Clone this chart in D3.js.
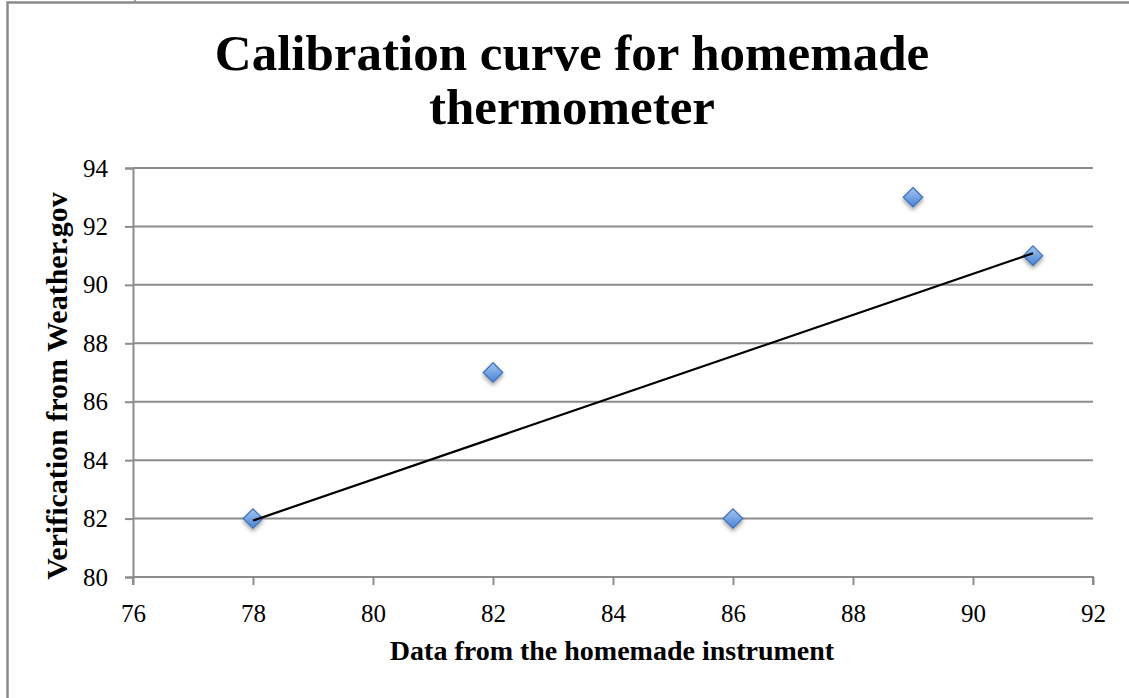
<!DOCTYPE html>
<html lang="en">
<head>
    <meta charset="UTF-8">
    <title>Calibration curve</title>
    <script src="https://d3js.org/d3.v7.min.js"></script>
    <style>
        body { margin: 0; background: #fff; }
        text { font-family: "Liberation Serif", "DejaVu Serif", serif; fill: #000; }
    </style>
</head>
<body>
<script>
    const width  = 1129;
    const height = 698;

    // readings from the homemade instrument vs weather.gov
    const homemade     = [78, 82, 86, 89, 91];
    const verification = [82, 87, 82, 93, 91];
    const xTicks = [76, 78, 80, 82, 84, 86, 88, 90, 92];
    const yTicks = [80, 82, 84, 86, 88, 90, 92, 94];

    const points = homemade.map((x, i) => [x, verification[i]]);

    const plot = {left: 133, right: 1093, top: 168, bottom: 577};

    const scaleX = d3.scaleLinear().domain([76, 92]).range([plot.left, plot.right]);
    const scaleY = d3.scaleLinear().domain([80, 94]).range([plot.bottom, plot.top]);

    // least squares trendline
    const mx = d3.mean(homemade), my = d3.mean(verification);
    const slope = d3.sum(points, d => (d[0] - mx) * (d[1] - my)) / d3.sum(points, d => (d[0] - mx) ** 2);
    const fit = x => my + slope * (x - mx);
    const trend = d3.extent(homemade).map(x => [x, fit(x)]);

    const svg = d3.select("body").append("svg").attr("width", width).attr("height", height);

    const defs = svg.append("defs");
    const grad = defs.append("linearGradient").attr("id", "mk")
        .attr("x1", 0).attr("y1", 0).attr("x2", 0).attr("y2", 1);
    grad.append("stop").attr("offset", 0).attr("stop-color", "#a3c6f3");
    grad.append("stop").attr("offset", 1).attr("stop-color", "#4a82d4");
    const shadow = defs.append("filter").attr("id", "sh")
        .attr("x", "-50%").attr("y", "-50%").attr("width", "200%").attr("height", "200%");
    shadow.append("feDropShadow").attr("dx", 0).attr("dy", 2.5).attr("stdDeviation", 2)
        .attr("flood-color", "#000").attr("flood-opacity", 0.4);

    // outer frame (left and top edges only visible)
    svg.append("path").attr("d", "M7.5,698V2.5H1129")
        .attr("fill", "none").attr("stroke", "#8a8a8a").attr("stroke-width", 2.5);
    svg.append("line").attr("x1", 135).attr("x2", 135).attr("y1", 0).attr("y2", 3)
        .attr("stroke", "#8a8a8a").attr("stroke-width", 1.5);

    svg.append("text").attr("x", 572).attr("y", 70).attr("text-anchor", "middle")
        .attr("font-size", 51).attr("font-weight", "bold").text("Calibration curve for homemade");
    svg.append("text").attr("x", 572).attr("y", 124).attr("text-anchor", "middle")
        .attr("font-size", 51).attr("font-weight", "bold").text("thermometer");

    const grid = svg.append("g");
    grid.selectAll("line").data(yTicks.filter(d => d > 80)).enter().append("line")
        .attr("x1", plot.left).attr("x2", plot.right)
        .attr("y1", d => scaleY(d)).attr("y2", d => scaleY(d))
        .attr("stroke", "#8c8c8c").attr("stroke-width", 2);

    const yAxis = svg.append("g").attr("transform", "translate(" + plot.left + ",0)")
        .call(d3.axisLeft(scaleY).tickValues(yTicks).tickSize(8).tickPadding(17).tickFormat(d3.format("d")));
    const xAxis = svg.append("g").attr("transform", "translate(0," + plot.bottom + ")")
        .call(d3.axisBottom(scaleX).tickValues(xTicks).tickSize(8).tickPadding(19).tickFormat(d3.format("d")));
    [xAxis, yAxis].forEach(a => {
        a.select(".domain").attr("stroke", "#8c8c8c").attr("stroke-width", 2);
        a.selectAll(".tick line").attr("stroke", "#8c8c8c").attr("stroke-width", 2);
        a.selectAll(".tick text").attr("font-size", 25).attr("fill", "#111")
            .style("font-family", "'Liberation Serif', serif");
    });
    xAxis.select(".domain").attr("d", "M" + plot.left + ",0H" + plot.right + "V8M" + plot.left + ",0V8");

    svg.append("text").attr("transform", "translate(67,386) rotate(-90)")
        .attr("text-anchor", "middle").attr("font-size", 30).attr("font-weight", "bold")
        .text("Verification from Weather.gov");
    svg.append("text").attr("x", 612).attr("y", 660)
        .attr("text-anchor", "middle").attr("font-size", 28).attr("font-weight", "bold")
        .text("Data from the homemade instrument");

    const diamond = d3.symbol().type(d3.symbolDiamond2).size(240);
    svg.append("g").selectAll("path").data(points).enter().append("path")
        .attr("d", diamond)
        .attr("transform", d => "translate(" + [scaleX(d[0]), scaleY(d[1])] + ")")
        .attr("fill", "url(#mk)").attr("stroke", "#3d6fb8").attr("stroke-width", 1.2)
        .attr("filter", "url(#sh)");

    svg.append("path").datum(trend)
        .attr("d", d3.line().x(d => scaleX(d[0])).y(d => scaleY(d[1])))
        .attr("fill", "none").attr("stroke", "#000").attr("stroke-width", 2.2);
</script>
</body>
</html>
